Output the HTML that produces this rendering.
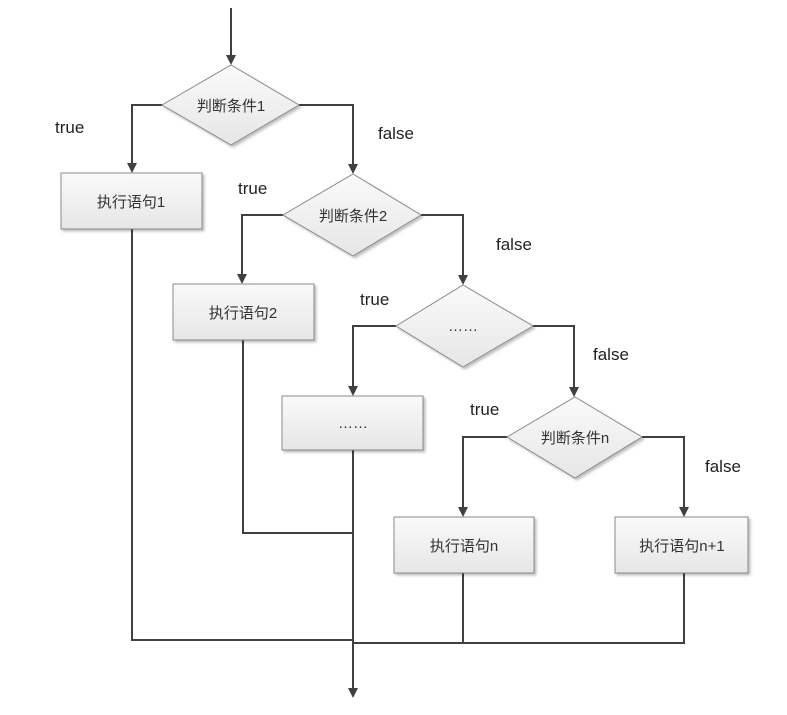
<!DOCTYPE html>
<html><head><meta charset="utf-8"><style>
html,body{margin:0;padding:0;background:#fff;}
svg{display:block;}
.l{stroke:#404040;stroke-width:2;fill:none;}
.t{font-family:"Liberation Sans","Noto Sans CJK SC",sans-serif;font-size:17px;fill:#222;}
.c{font-family:"Liberation Sans","Noto Sans CJK SC",sans-serif;font-size:15px;fill:#333;text-anchor:middle;}
.b{fill:url(#g);stroke:#8a8a8a;stroke-width:1;}
</style></head><body>
<svg width="787" height="715" viewBox="0 0 787 715" xmlns="http://www.w3.org/2000/svg">
<defs>
<linearGradient id="g" x1="0" y1="0" x2="0" y2="1"><stop offset="0" stop-color="#fafafa"/><stop offset="1" stop-color="#e6e6e6"/></linearGradient>
<marker id="a" markerWidth="10" markerHeight="10" refX="8" refY="5" orient="auto" markerUnits="userSpaceOnUse"><path d="M0,0 L10,5 L0,10 z" fill="#404040"/></marker>
<filter id="s" x="-10%" y="-10%" width="130%" height="140%"><feDropShadow dx="2" dy="2" stdDeviation="1.2" flood-color="#000" flood-opacity="0.25"/></filter>
</defs>
<!-- connectors -->
<path class="l" d="M231,8 V63" marker-end="url(#a)"/>
<path class="l" d="M162,105 H132 V171" marker-end="url(#a)"/>
<path class="l" d="M299,105 H353 V172" marker-end="url(#a)"/>
<path class="l" d="M283,215 H242 V282" marker-end="url(#a)"/>
<path class="l" d="M421,215 H463 V283" marker-end="url(#a)"/>
<path class="l" d="M396,326 H353 V394" marker-end="url(#a)"/>
<path class="l" d="M533,326 H574 V395" marker-end="url(#a)"/>
<path class="l" d="M507,437 H463 V515" marker-end="url(#a)"/>
<path class="l" d="M642,437 H684 V515" marker-end="url(#a)"/>
<path class="l" d="M132,229 V640 H353"/>
<path class="l" d="M243,340 V533 H353"/>
<path class="l" d="M353,450 V696" marker-end="url(#a)"/>
<path class="l" d="M463,573 V643"/>
<path class="l" d="M684,573 V643 H353"/>
<!-- shapes -->
<g filter="url(#s)">
<polygon class="b" points="231,65 299,105 231,145 162,105"/>
<polygon class="b" points="353,174 421,215 353,256 283,215"/>
<polygon class="b" points="463,285 533,326 463,367 396,326"/>
<polygon class="b" points="575,397 642,437 575,478 507,437"/>
<rect class="b" x="61" y="173" width="141" height="56"/>
<rect class="b" x="173" y="284" width="141" height="56"/>
<rect class="b" x="282" y="396" width="141" height="54"/>
<rect class="b" x="394" y="517" width="140" height="56"/>
<rect class="b" x="615" y="517" width="133" height="56"/>
</g>
<!-- node text -->
<text class="c" x="231" y="111">判断条件1</text>
<text class="c" x="353" y="221">判断条件2</text>
<text class="c" x="463" y="331">……</text>
<text class="c" x="575" y="443">判断条件n</text>
<text class="c" x="131" y="207">执行语句1</text>
<text class="c" x="243" y="318">执行语句2</text>
<text class="c" x="353" y="428">……</text>
<text class="c" x="464" y="551">执行语句n</text>
<text class="c" x="682" y="551">执行语句n+1</text>
<!-- labels -->
<text class="t" x="55" y="133">true</text>
<text class="t" x="378" y="139">false</text>
<text class="t" x="238" y="194">true</text>
<text class="t" x="496" y="250">false</text>
<text class="t" x="360" y="305">true</text>
<text class="t" x="593" y="360">false</text>
<text class="t" x="470" y="415">true</text>
<text class="t" x="705" y="472">false</text>
</svg>
</body></html>
